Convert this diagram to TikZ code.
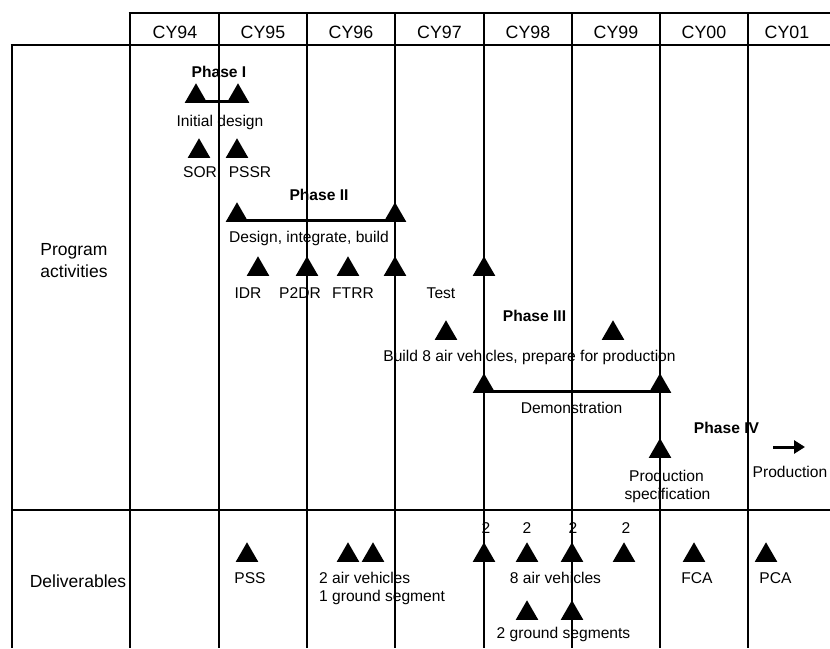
\documentclass[tikz,border=0pt]{standalone}
\usepackage{fontspec}
\setmainfont{Liberation Sans}
\usetikzlibrary{shapes.geometric,arrows.meta}
\tikzset{
  tri/.style={regular polygon, regular polygon sides=3, fill=black, draw=none,
              minimum size=26pt, inner sep=0pt, anchor=south},
  lbl/.style={font=\fontsize{15.6}{18}\selectfont, inner sep=0pt, anchor=base},
  lblw/.style={font=\fontsize{15.6}{18}\selectfont, inner sep=0pt, anchor=base west},
  rowlbl/.style={font=\fontsize{17.5}{21}\selectfont, inner sep=0pt, anchor=base},
  phase/.style={font=\bfseries\fontsize{15.6}{18}\selectfont, inner sep=0pt, anchor=base},
  hdr/.style={font=\fontsize{17.8}{20}\selectfont, inner sep=0pt, anchor=base},
  gridline/.style={line width=1.4pt},
  frame/.style={line width=2.6pt},
  sep/.style={line width=1.8pt},
  bar/.style={line width=3pt},
  bigarrow/.style={line width=3pt, -{Triangle[length=11pt,width=13pt]}},
}
\begin{document}
\begin{tikzpicture}[x=1pt,y=-1pt]
\useasboundingbox (0,0) rectangle (830,648);

% ---- grid ----
\foreach \cx in {219,307,395,484,572,660,748}
  \draw[gridline] (\cx,13) -- (\cx,648);
\draw[frame] (130,13) -- (130,648);
\draw[frame] (12,45) -- (12,648);
\draw[frame] (128.7,13) -- (830,13);
\draw[frame] (10.7,45) -- (830,45);
\draw[sep] (12,510) -- (830,510);

% ---- header ----
\node[hdr] (h94) at (175,38) {CY94};
\node[hdr] (h95) at (263,38) {CY95};
\node[hdr] (h96) at (351,38) {CY96};
\node[hdr] (h97) at (439.5,38) {CY97};
\node[hdr] (h98) at (528,38) {CY98};
\node[hdr] (h99) at (616,38) {CY99};
\node[hdr] (h00) at (704,38) {CY00};
\node[hdr] (h01) at (787,38) {CY01};

% ---- row labels ----
\node[rowlbl] (prog1) at (74,255) {Program};
\node[rowlbl] (prog2) at (74,277) {activities};
\node[rowlbl] (deliv) at (78,587) {Deliverables};

% ---- Phase I ----
\node[phase] (ph1) at (219,77) {Phase I};
\node[tri] (p1a) at (196,103) {};
\node[tri] (p1b) at (238,103) {};
\draw[bar] ([yshift=1.5pt]p1a.south) -- ([yshift=1.5pt]p1b.south);
\node[lbl] (initd) at (220,126) {Initial design};
\node[tri] (sor) at (199,158) {};
\node[tri] (pssr) at (237,158) {};
\node[lbl] (sorl) at (200,177) {SOR};
\node[lbl] (pssrl) at (250,177) {PSSR};

% ---- Phase II ----
\node[phase] (ph2) at (319,200) {Phase II};
\node[tri] (p2a) at (237,222) {};
\node[tri] (p2b) at (395,222) {};
\draw[bar] ([yshift=1.5pt]p2a.south) -- ([yshift=1.5pt]p2b.south);
\node[lbl] (dib) at (309,242) {Design, integrate, build};
\node[tri] (idr) at (258,276) {};
\node[tri] (p2dr) at (307,276) {};
\node[tri] (ftrr) at (348,276) {};
\node[tri] (endb) at (395,276) {};
\node[lbl] (idrl) at (248,298) {IDR};
\node[lbl] (p2drl) at (300,298) {P2DR};
\node[lbl] (ftrrl) at (353,298) {FTRR};
\node[tri] (testt) at (484,276) {};
\node[lbl] (testl) at (441,298) {Test};

% ---- Phase III ----
\node[phase] (ph3) at (534.5,321) {Phase III};
\node[tri] (b8a) at (446,340) {};
\node[tri] (b8b) at (613,340) {};
\node[lbl] (b8l) at (529.5,361) {Build 8 air vehicles, prepare for production};
\node[tri] (dma) at (484,393) {};
\node[tri] (dmb) at (660,393) {};
\draw[bar] ([yshift=1.5pt]dma.south) -- ([yshift=1.5pt]dmb.south);
\node[lbl] (demol) at (571.5,413) {Demonstration};

% ---- Phase IV ----
\node[phase] (ph4) at (726.5,433) {Phase IV};
\coordinate (arrS) at (773,447);
\coordinate (arrE) at (805,447);
\draw[bigarrow] (arrS) -- (arrE);
\node[tri] (pspec) at (660,458) {};
\node[lbl] (pspec1) at (666.5,481) {Production};
\node[lbl] (pspec2) at (667.5,499) {specification};
\node[lbl] (prodl) at (790,477) {Production};

% ---- Deliverables ----
\node[tri] (pss) at (247,562) {};
\node[lbl] (pssl) at (250,583) {PSS};
\node[tri] (av2a) at (348,562) {};
\node[tri] (av2b) at (373,562) {};
\node[lblw] (av2l1) at (319,583) {2 air vehicles};
\node[lblw] (av2l2) at (319,601) {1 ground segment};

\node[tri] (d1) at (484,562) {};
\node[tri] (d2) at (527,562) {};
\node[tri] (d3) at (572,562) {};
\node[tri] (d4) at (624,562) {};
\node[lbl] (n1) at (486,533) {2};
\node[lbl] (n2) at (527,533) {2};
\node[lbl] (n3) at (573,533) {2};
\node[lbl] (n4) at (626,533) {2};
\node[lbl] (av8l) at (555.5,583) {8 air vehicles};
\node[tri] (g1) at (527,620) {};
\node[tri] (g2) at (572,620) {};
\node[lbl] (gl) at (563.5,638) {2 ground segments};

\node[tri] (fca) at (694,562) {};
\node[lbl] (fcal) at (697,583) {FCA};
\node[tri] (pca) at (766,562) {};
\node[lbl] (pcal) at (775.5,583) {PCA};
\end{tikzpicture}
\end{document}
